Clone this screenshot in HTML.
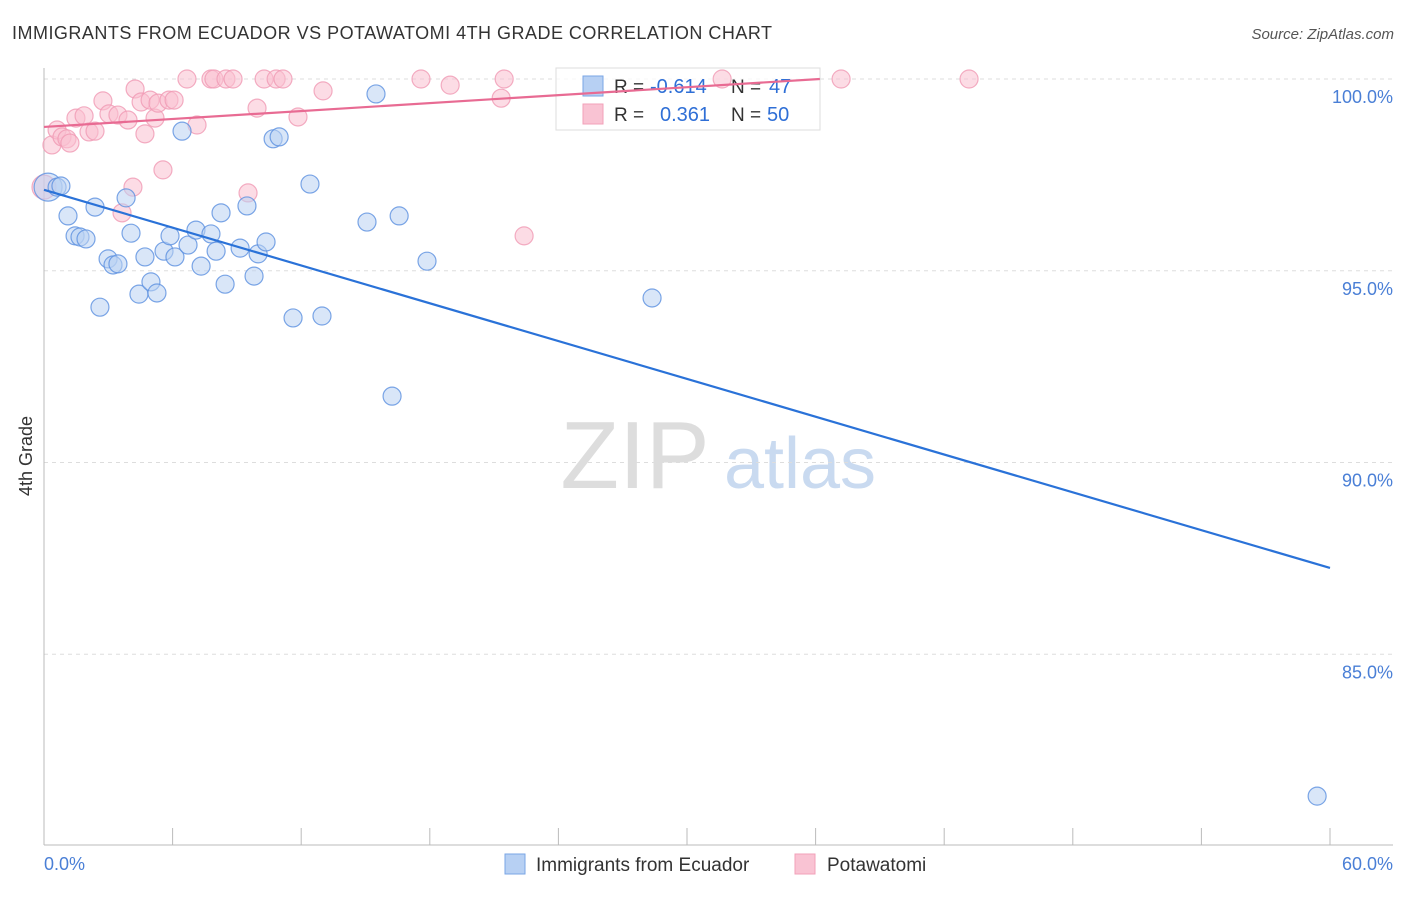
<!DOCTYPE html>
<html><head><meta charset="utf-8"><style>
body{margin:0;background:#fff;font-family:"Liberation Sans",sans-serif;}
svg text{font-family:"Liberation Sans",sans-serif;}
</style></head><body>
<svg id="chart" width="1406" height="892" xmlns="http://www.w3.org/2000/svg">
<text x="12" y="39" font-size="18" fill="#333" textLength="760">IMMIGRANTS FROM ECUADOR VS POTAWATOMI 4TH GRADE CORRELATION CHART</text>
<text x="1394" y="39" font-size="15" fill="#555" text-anchor="end" font-style="italic">Source: ZipAtlas.com</text>
<text x="32" y="456" font-size="18" fill="#333" text-anchor="middle" transform="rotate(-90 32 456)">4th Grade</text>
<g><text x="635" y="488" font-size="96" fill="#ddd" text-anchor="middle" font-family="Liberation Serif">ZIP</text><text x="800" y="488" font-size="72" fill="#c9daf0" text-anchor="middle">atlas</text></g>
<g id="grid"></g><g id="axes"></g>
<g>
<rect x="556" y="68" width="264" height="62" fill="#fff" fill-opacity="0.75" stroke="#ddd"/>
<rect x="583" y="76" width="20" height="20" fill="#b7d0f3" stroke="#7aa6e6"/>
<rect x="583" y="104" width="20" height="20" fill="#f9c3d3" stroke="#f2a0b8"/>
<text x="614" y="93" font-size="19" fill="#333">R =</text><text x="650" y="93" font-size="20" fill="#2f6fd6">-0.614</text>
<text x="731" y="93" font-size="19" fill="#333">N =</text><text x="769" y="93" font-size="20" fill="#2f6fd6">47</text>
<text x="614" y="121" font-size="19" fill="#333">R =</text><text x="660" y="121" font-size="20" fill="#2f6fd6">0.361</text>
<text x="731" y="121" font-size="19" fill="#333">N =</text><text x="767" y="121" font-size="20" fill="#2f6fd6">50</text>
</g>
<g id="marks"></g>
<g>
<rect x="505" y="854" width="20" height="20" fill="#b7d0f3" stroke="#7aa6e6"/>
<text x="536" y="871" font-size="19" fill="#333">Immigrants from Ecuador</text>
<rect x="795" y="854" width="20" height="20" fill="#f9c3d3" stroke="#f2a0b8"/>
<text x="827" y="871" font-size="19" fill="#333">Potawatomi</text>
</g>
</svg>
<script>
const blueX=[0.19,0.61,0.79,1.12,1.45,1.68,1.96,2.38,2.61,2.99,3.22,3.45,3.83,4.06,4.43,4.71,4.99,5.27,5.60,5.88,6.11,6.44,6.72,7.09,7.33,7.79,8.03,8.26,8.45,9.15,9.47,9.80,9.99,10.36,10.69,10.97,11.62,12.41,12.97,15.07,15.49,16.24,16.57,17.87,28.37,59.40];
const blueY=[97.18,97.18,97.21,96.43,95.91,95.88,95.83,96.66,94.05,95.31,95.15,95.18,96.90,95.98,94.39,95.36,94.71,94.42,95.51,95.91,95.36,98.64,95.67,96.06,95.12,95.96,95.51,96.51,94.65,95.59,96.69,94.86,95.44,95.75,98.44,98.49,93.77,97.26,93.82,96.27,99.61,91.73,96.43,95.25,94.29,81.30];
const pinkX=[0,0.37,0.61,0.84,1.07,1.21,1.49,1.87,2.10,2.38,2.75,3.03,3.45,3.64,3.92,4.15,4.25,4.53,4.71,4.95,5.18,5.32,5.55,5.83,6.07,6.67,7.14,7.79,7.93,8.49,8.82,9.52,9.94,10.27,10.83,11.15,11.85,13.02,17.59,18.95,21.33,21.47,22.4,31.64,37.19,43.16];
const pinkY=[97.18,98.28,98.67,98.49,98.44,98.33,98.98,99.04,98.62,98.64,99.43,99.09,99.06,96.51,98.93,97.18,99.74,99.40,98.57,99.45,98.98,99.37,97.63,99.45,99.45,100,98.80,100,100,100,100,97.03,99.24,100,100,100,99.01,99.69,100,99.84,99.50,100,95.91,100,100,100];
const yTicks=[100,95,90,85];
const yTickLabels=["100.0%","95.0%","90.0%","85.0%"];
const xTicks=[0,6,12,18,24,30,36,42,48,54,60];
const blueTrend=[[0,97.11],[60,87.25]];
const pinkTrend=[[0,98.75],[36.2,100]];
const NS="http://www.w3.org/2000/svg";
const sx=v=>44+v*1286/60, sy=v=>79+(100-v)*38.35;
function mk(p,t,a){const e=document.createElementNS(NS,t);for(const k in a)e.setAttribute(k,a[k]);document.getElementById(p).appendChild(e);return e;}
yTicks.forEach((t,i)=>{
 let l=mk('grid','line',{x1:44,x2:1393,y1:sy(t),y2:sy(t),stroke:'#ddd','stroke-dasharray':'4,4'});
 
 
 let tx=mk('grid','text',{x:1393,y:sy(t)+24,'font-size':18,fill:'#4a7fd6','text-anchor':'end'});tx.textContent=yTickLabels[i];
 
 
});
let ax=mk('axes','line',{x1:44,x2:44,y1:68,y2:845,stroke:'#bbb'});


let bx=mk('axes','line',{x1:44,x2:1393,y1:845,y2:845,stroke:'#bbb'});


xTicks.forEach(t=>{let l=mk('axes','line',{x1:sx(t),x2:sx(t),y1:828,y2:845,stroke:'#bbb'});
 
 });
let x0=mk('axes','text',{x:44,y:870,'font-size':18,fill:'#4a7fd6'});x0.textContent='0.0%';


let x1=mk('axes','text',{x:1393,y:870,'font-size':18,fill:'#4a7fd6','text-anchor':'end'});x1.textContent='60.0%';


function dots(X,Y,fill,stroke,name){X.forEach((x,i)=>{let c=mk('marks','circle',{cx:sx(x),cy:sy(Y[i]),r:(i==0?(name=='blue-point'?14:12):9),fill:fill,'fill-opacity':0.55,stroke:stroke,'stroke-opacity':0.8,'stroke-width':1.2});
 
 });}
dots(pinkX,pinkY,'#f9bfd0','#f09ab4','pink-point');
dots(blueX,blueY,'#b9d2f3','#5b90e0','blue-point');
let tb=mk('marks','line',{x1:sx(blueTrend[0][0]),y1:sy(blueTrend[0][1]),x2:sx(blueTrend[1][0]),y2:sy(blueTrend[1][1]),stroke:'#2a72d8','stroke-width':2.2});


let tp=mk('marks','line',{x1:sx(pinkTrend[0][0]),y1:sy(pinkTrend[0][1]),x2:sx(pinkTrend[1][0]),y2:sy(pinkTrend[1][1]),stroke:'#e86b93','stroke-width':2.2});


</script>
</body></html>
